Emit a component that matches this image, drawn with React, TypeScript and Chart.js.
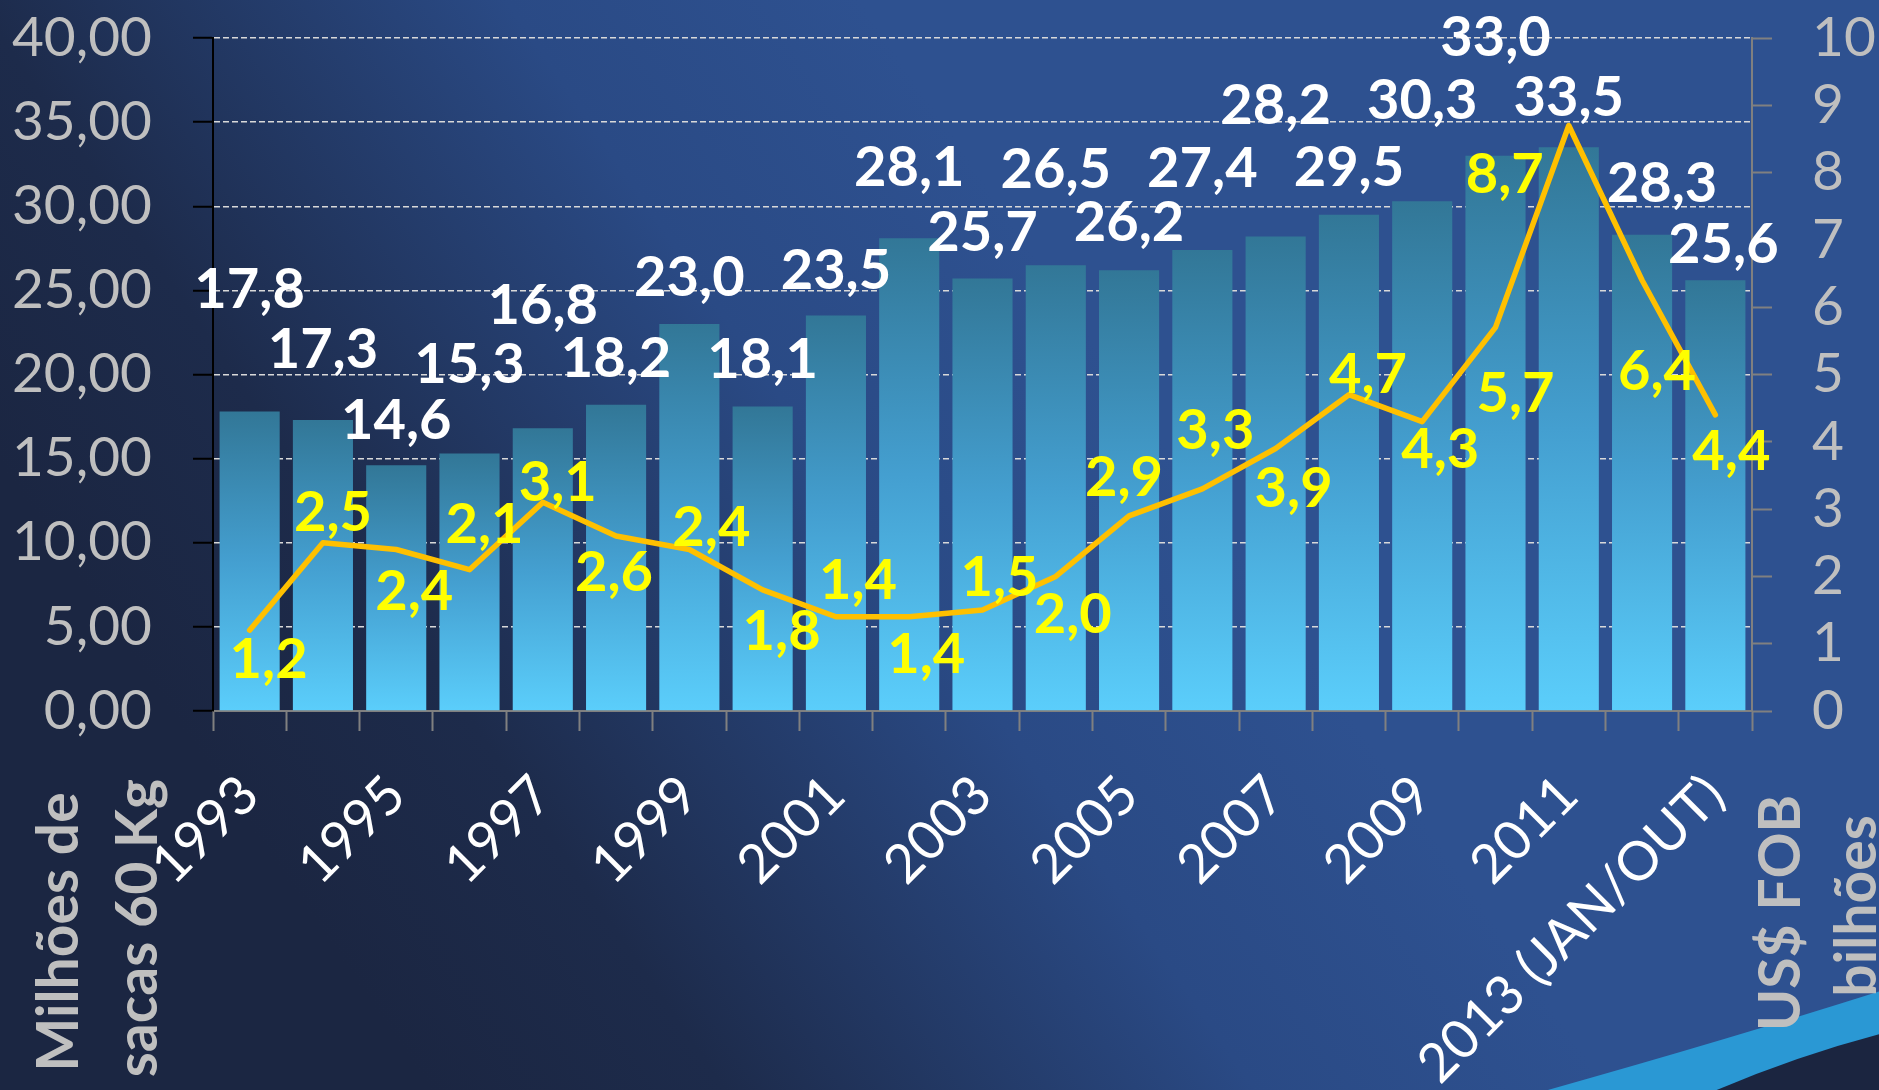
import React, { useEffect, useRef } from 'react';
import { Chart, registerables } from 'chart.js';

Chart.register(...registerables);

// ---- Data ----
const years = [
  '1993', '1994', '1995', '1996', '1997', '1998', '1999', '2000', '2001', '2002',
  '2003', '2004', '2005', '2006', '2007', '2008', '2009', '2010', '2011', '2012',
  '2013 (JAN/OUT)',
];
const volumeMillionBags = [
  17.8, 17.3, 14.6, 15.3, 16.8, 18.2, 23.0, 18.1, 23.5, 28.1,
  25.7, 26.5, 26.2, 27.4, 28.2, 29.5, 30.3, 33.0, 33.5, 28.3, 25.6,
];
const revenueBillionUSD = [
  1.2, 2.5, 2.4, 2.1, 3.1, 2.6, 2.4, 1.8, 1.4, 1.4,
  1.5, 2.0, 2.9, 3.3, 3.9, 4.7, 4.3, 5.7, 8.7, 6.4, 4.4,
];
const leftAxisTitle = ['Milhões de', 'sacas 60 Kg'];
const rightAxisTitle = ['US$ FOB', 'bilhões'];

// ---- Label placement (pixel offsets of the value labels, as in the original) ----
const barLabelRise = [124, 72, 47, 91, 125, 48, 48, 49, 47, 72, 48, 97, 49, 83, 133, 49, 102, 120, 52, 53, 37];
const barLabelShift = [0, 0, 0, 0, 0, 0, 0, 0, 0, 0, 0, 0, 0, 0, 0, 0, 0, 0, 0, 20, 8];
const lineLabelDx = [19, 10, 18, 15, 15, -2, 22, 19, 22, 17, 17, 17, -5, 13, 18, 19, 18, 20, -64, 15, 16];
const lineLabelDy = [28, -32, 40, -47, -22, 35, -24, 40, -38, 36, -34, 36, -40, -60, 38, -22, 26, 64, 47, 90, 35];

const W = 1879;
const H = 1090;
const FONT = 'Lato, "Open Sans", sans-serif';

const fmtComma = (v: number, d: number) => v.toFixed(d).replace('.', ',');

const backgroundPlugin = {
  id: 'bgPlugin',
  beforeDraw(chart: any) {
    const ctx = chart.ctx as CanvasRenderingContext2D;
    ctx.save();
    const g = ctx.createLinearGradient(300, 900, 1100, 350);
    g.addColorStop(0, '#1b2642');
    g.addColorStop(0.25, '#1d2b4b');
    g.addColorStop(0.7, '#2a4a85');
    g.addColorStop(1, '#2e5190');
    ctx.fillStyle = g;
    ctx.fillRect(0, 0, W, H);
    // swoosh bottom right
    ctx.beginPath();
    ctx.moveTo(1530, H + 5);
    ctx.quadraticCurveTo(1720, 1042, W + 5, 990);
    ctx.lineTo(W + 5, H + 5);
    ctx.closePath();
    ctx.fillStyle = '#2a98d4';
    ctx.fill();
    ctx.beginPath();
    ctx.moveTo(1705, H + 5);
    ctx.quadraticCurveTo(1795, 1056, W + 5, 1033);
    ctx.lineTo(W + 5, H + 5);
    ctx.closePath();
    ctx.fillStyle = '#1b2540';
    ctx.fill();
    ctx.restore();
  },
};

const labelsPlugin = {
  id: 'valueLabels',
  afterDatasetsDraw(chart: any) {
    const ctx = chart.ctx as CanvasRenderingContext2D;
    const fs = 56;
    ctx.save();
    ctx.font = `bold ${fs}px ${FONT}`;
    ctx.textAlign = 'center';
    ctx.textBaseline = 'alphabetic';
    const capHalf = fs * 0.36;
    const barMeta = chart.getDatasetMeta(0);
    barMeta.data.forEach((el: any, i: number) => {
      ctx.fillStyle = '#ffffff';
      ctx.fillText(fmtComma(volumeMillionBags[i], 1), el.x + barLabelShift[i], el.y - barLabelRise[i] + capHalf);
    });
    const lineMeta = chart.getDatasetMeta(1);
    lineMeta.data.forEach((el: any, i: number) => {
      ctx.fillStyle = '#ffff00';
      ctx.fillText(fmtComma(revenueBillionUSD[i], 1), el.x + lineLabelDx[i], el.y + lineLabelDy[i] + capHalf);
    });
    ctx.restore();
  },
  afterDraw(chart: any) {
    const ctx = chart.ctx as CanvasRenderingContext2D;
    ctx.save();
    ctx.font = `bold 57px ${FONT}`;
    ctx.fillStyle = '#bfbfbf';
    ctx.textAlign = 'center';
    ctx.textBaseline = 'alphabetic';
    const drawVert = (text: string, x: number, y: number) => {
      ctx.save();
      ctx.translate(x, y);
      ctx.rotate(-Math.PI / 2);
      ctx.fillText(text, 0, 0);
      ctx.restore();
    };
    drawVert(leftAxisTitle[0], 78, 932);
    drawVert(leftAxisTitle[1], 157, 928);
    drawVert(rightAxisTitle[0], 1800, 913);
    drawVert(rightAxisTitle[1], 1876, 906);
    ctx.restore();
  },
};

const zeroPad = (s: any) => {
  s.paddingTop = 0;
  s.paddingBottom = 0;
};

export default function App() {
  const canvasRef = useRef<HTMLCanvasElement | null>(null);

  useEffect(() => {
    if (!canvasRef.current) return;
    Chart.defaults.font.family = FONT;
    const chart = new Chart(canvasRef.current, {
      type: 'bar',
      data: {
        labels: years,
        datasets: [
          {
            type: 'bar',
            label: 'Milhões de sacas 60 Kg',
            data: volumeMillionBags,
            yAxisID: 'y',
            order: 1,
            categoryPercentage: 1,
            barPercentage: 0.82,
            backgroundColor: (c: any) => {
              const chart = c.chart;
              const area = chart.chartArea;
              if (!area || c.type !== 'data') return '#4aa8d8';
              const y = chart.scales.y;
              const top = y.getPixelForValue(c.raw);
              const bottom = y.getPixelForValue(0);
              const g = chart.ctx.createLinearGradient(0, top, 0, bottom);
              g.addColorStop(0, '#327797');
              g.addColorStop(0.5, '#449fd0');
              g.addColorStop(1, '#5bcefb');
              return g;
            },
            borderWidth: 0,
          } as any,
          {
            type: 'line',
            label: 'US$ FOB bilhões',
            data: revenueBillionUSD,
            yAxisID: 'y1',
            order: 0,
            borderColor: '#ffc000',
            borderWidth: 5.5,
            borderJoinStyle: 'round',
            borderCapStyle: 'round',
            pointRadius: 0,
            tension: 0,
            fill: false,
          } as any,
        ],
      },
      options: {
        responsive: false,
        animation: false,
        devicePixelRatio: 1,
        layout: { padding: { top: 38, left: 0, right: 0, bottom: 0 } },
        plugins: {
          legend: { display: false },
          tooltip: { enabled: false },
        },
        scales: {
          x: {
            type: 'category',
            offset: true,
            grid: {
              display: true,
              drawOnChartArea: false,
              offset: true,
              color: '#808080',
              tickLength: 20,
              tickWidth: 2,
            },
            border: { display: true, color: '#808080', width: 2 },
            ticks: {
              color: '#ffffff',
              font: { size: 54, family: FONT },
              minRotation: 45,
              maxRotation: 45,
              autoSkip: false,
              padding: 32,
              callback: (_v: any, i: number) => (i % 2 === 0 ? years[i] : ''),
            },
            afterFit: (s: any) => {
              s.height = H - 711;
              s.paddingLeft = 0;
              s.paddingRight = 0;
            },
          },
          y: {
            type: 'linear',
            position: 'left',
            min: 0,
            max: 40,
            grid: {
              color: (c: any) => (c.tick && c.tick.value === 0 ? 'rgba(0,0,0,0)' : '#d9d9d9'),
              lineWidth: 1.5,
              tickColor: '#000000',
              tickLength: 20,
              tickWidth: 2,
            },
            border: { display: true, color: '#000000', width: 2, dash: [6, 3] },
            ticks: {
              stepSize: 5,
              autoSkip: false,
              color: '#bfbfbf',
              font: { size: 55, family: FONT },
              padding: 41,
              callback: (v: any) => fmtComma(Number(v), 2),
            },
            afterFit: (s: any) => {
              s.width = 213;
              zeroPad(s);
            },
          },
          y1: {
            type: 'linear',
            position: 'right',
            min: 0,
            max: 10,
            grid: {
              drawOnChartArea: false,
              color: '#808080',
              tickLength: 20,
              tickWidth: 2,
            },
            border: { display: true, color: '#808080', width: 2 },
            ticks: {
              stepSize: 1,
              autoSkip: false,
              color: '#bfbfbf',
              font: { size: 55, family: FONT },
              padding: 40,
            },
            afterFit: (s: any) => {
              s.width = W - 1752;
              zeroPad(s);
            },
          },
        },
      } as any,
      plugins: [backgroundPlugin, labelsPlugin],
    });
    return () => chart.destroy();
  }, []);

  return (
    <div style={{ position: 'fixed', left: 0, top: 0, width: W, height: H, background: '#1b2642' }}>
      <canvas ref={canvasRef} width={W} height={H} style={{ width: W, height: H, display: 'block' }} />
    </div>
  );
}
